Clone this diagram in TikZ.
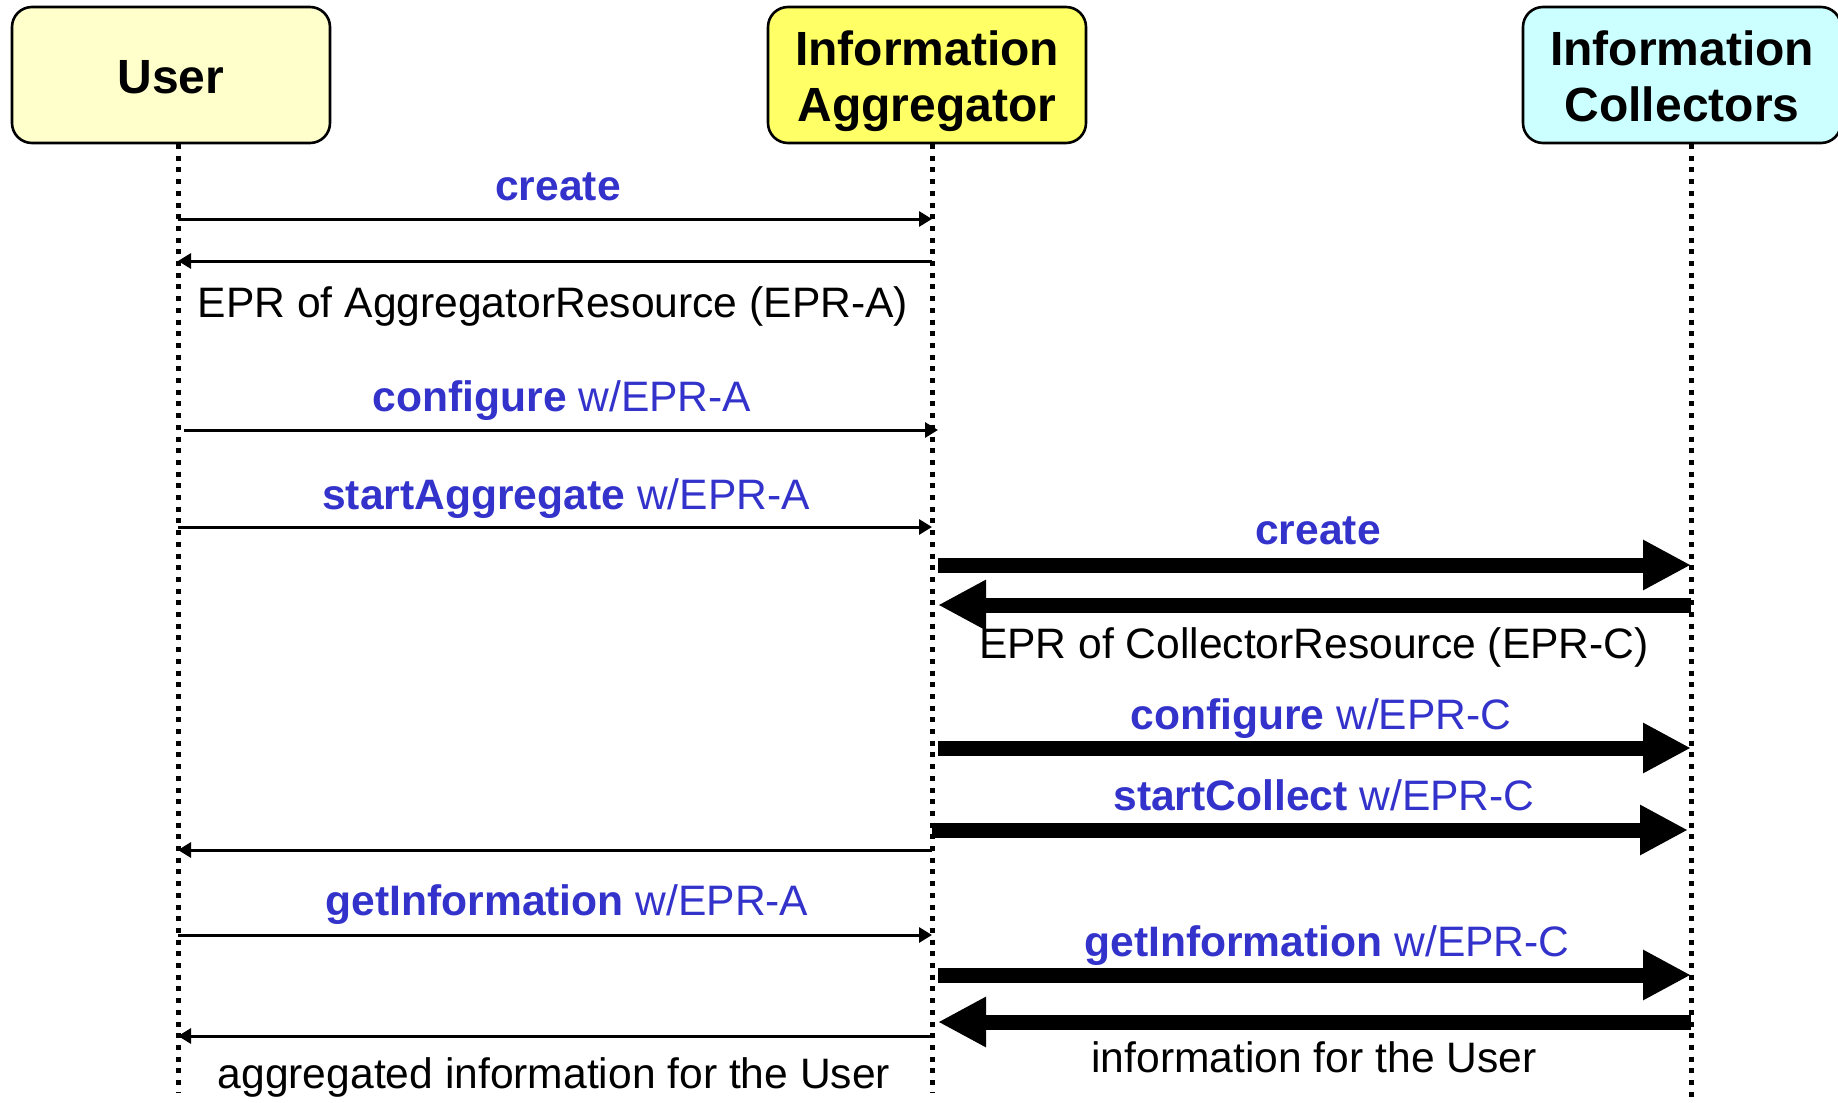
\documentclass[tikz,border=0pt]{standalone}
\usepackage{fontspec}
\setmainfont{Liberation Sans}
\usetikzlibrary{arrows.meta}

\definecolor{userfill}{RGB}{255,255,204}
\definecolor{aggrfill}{RGB}{255,255,102}
\definecolor{collfill}{RGB}{204,255,255}
\definecolor{msgblue}{RGB}{51,51,204}

\tikzset{
  actor/.style={draw, line width=1.3pt, rounded corners=10pt, minimum width=159pt,
    minimum height=68pt, align=center, font=\fontsize{24}{28}\selectfont\bfseries},
  lifeline/.style={line width=2.5pt, dash pattern=on 2.5pt off 3.35pt},
  smallmsg/.style={line width=1.5pt, -{Triangle[length=6.5pt,width=7.5pt]}},
  bigmsg/.style={line width=7.5pt, -{Triangle[length=24pt,width=23.5pt]}},
  lbl/.style={anchor=base, inner sep=0pt, font=\fontsize{21.3}{25}\selectfont},
  calllbl/.style={lbl, text=msgblue},
}
\newcommand{\dropline}[2]{\raisebox{-#1}[\height][\depth]{#2}}

\begin{document}
\begin{tikzpicture}[x=0.5pt,y=0.5pt,yscale=-1,xscale=1]
    \useasboundingbox (0,0) rectangle (1838,1103);

    % Actors
    \node[actor, fill=userfill] (user) at (171,75) {\dropline{1.2pt}{User}};
    \node[actor, fill=aggrfill] (aggr) at (927,75) {\dropline{3pt}{Information}\\\dropline{3pt}{Aggregator}};
    \node[actor, fill=collfill] (coll) at (1682,75) {\dropline{0.5pt}{Information}\\\dropline{0.5pt}{Collectors}};

    % Lifelines
    \coordinate (uTop) at (178,144);
    \coordinate (aTop) at (932,144);
    \coordinate (cTop) at (1691,144);
    \coordinate (uBot) at (178,1093);
    \coordinate (aBot) at (932,1093);
    \coordinate (cBot) at (1691,1103);
    \draw[lifeline] (uTop) -- (uBot);
    \draw[lifeline] (aTop) -- (aBot);
    \draw[lifeline] (cTop) -- (cBot);

    % User <-> Aggregator
    \draw[smallmsg] (uTop |- 0,219) -- (aTop |- 0,219);
    \draw[smallmsg] (aTop |- 0,261) -- (uTop |- 0,261);
    \draw[smallmsg] ([xshift=3pt]uTop |- 0,430) -- ([xshift=3pt]aTop |- 0,430);
    \draw[smallmsg] (uTop |- 0,527) -- (aTop |- 0,527);
    \draw[smallmsg] (aTop |- 0,850) -- (uTop |- 0,850);
    \draw[smallmsg] (uTop |- 0,935) -- (aTop |- 0,935);
    \draw[smallmsg] (aTop |- 0,1036) -- (uTop |- 0,1036);

    % Aggregator <-> Collectors
    \draw[bigmsg, shorten <=3pt] (aTop |- 0,565) -- (cTop |- 0,565);
    \draw[bigmsg, shorten >=3pt] (cTop |- 0,605) -- (aTop |- 0,605);
    \draw[bigmsg, shorten <=3pt] (aTop |- 0,748) -- (cTop |- 0,748);
    \draw[bigmsg] (aTop |- 0,830) -- ([xshift=-1.5pt]cTop |- 0,830);
    \draw[bigmsg, shorten <=3pt] (aTop |- 0,975) -- (cTop |- 0,975);
    \draw[bigmsg, shorten >=3pt] (cTop |- 0,1022) -- (aTop |- 0,1022);

    % Text Node
    \node[calllbl] (createA) at (558,200) {\textbf{create}};
    % Text Node
    \node[lbl] (eprA) at (553,317) {EPR of AggregatorResource (EPR-A)};
    % Text Node
    \node[calllbl] (confA) at (562,411) {\textbf{configure} w/EPR-A};
    % Text Node
    \node[calllbl] (startA) at (566,509) {\textbf{startAggregate} w/EPR-A};
    % Text Node
    \node[calllbl] (createC) at (1318,544) {\textbf{create}};
    % Text Node
    \node[lbl] (eprC) at (1314,658) {EPR of CollectorResource (EPR-C)};
    % Text Node
    \node[calllbl] (confC) at (1321,729) {\textbf{configure} w/EPR-C};
    % Text Node
    \node[calllbl] (startC) at (1324,810) {\textbf{startCollect} w/EPR-C};
    % Text Node
    \node[calllbl] (getA) at (567,915) {\textbf{getInformation} w/EPR-A};
    % Text Node
    \node[calllbl] (getC) at (1327,956) {\textbf{getInformation} w/EPR-C};
    % Text Node
    \node[lbl] (infoC) at (1314,1072) {information for the User};
    % Text Node
    \node[lbl] (infoA) at (554,1088) {aggregated information for the User};
\end{tikzpicture}
\end{document}
